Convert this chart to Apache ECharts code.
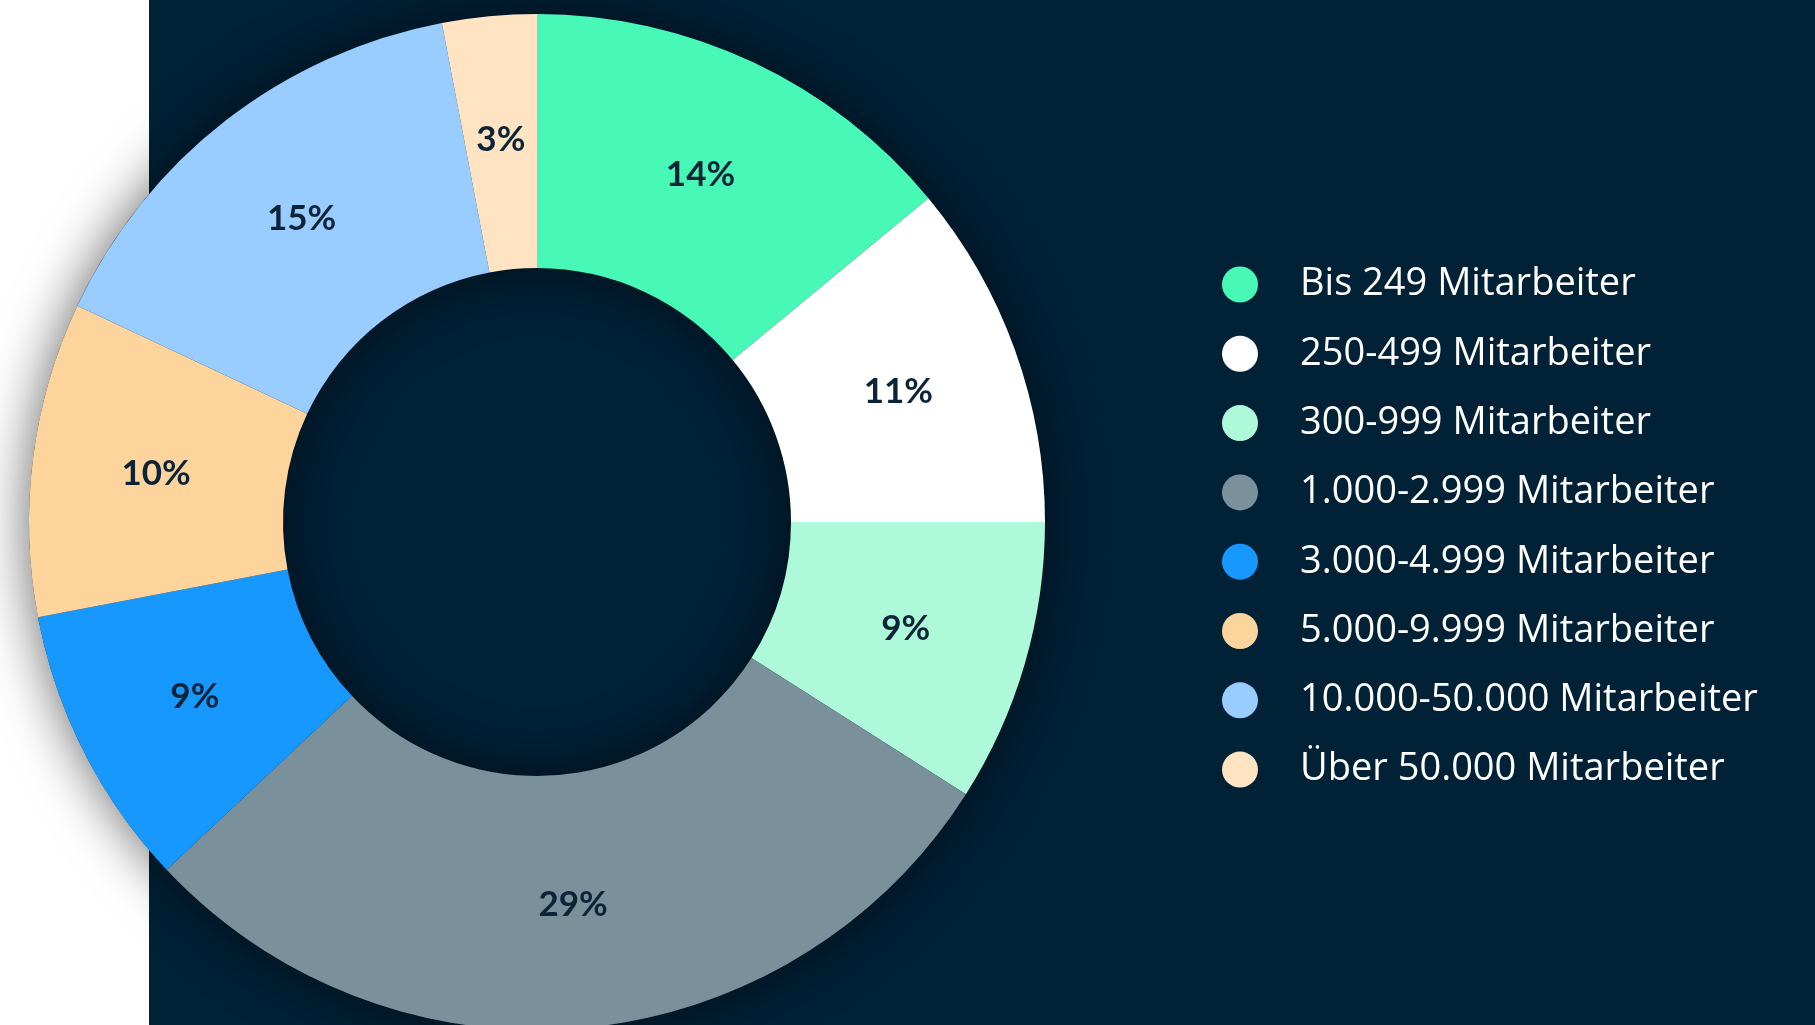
<!DOCTYPE html>
<html>
<head>
<meta charset="utf-8">
<script src="https://cdn.jsdelivr.net/npm/echarts@6/dist/echarts.min.js"></script>
<style>
  html, body { margin: 0; padding: 0; background: #ffffff; }
  #main { width: 1815px; height: 1025px; }
</style>
</head>
<body>
<div id="main"></div>
<script>
// Mitarbeiter-Verteilung (Anteile in %)
var categories = [
  'Bis 249 Mitarbeiter',
  '250-499 Mitarbeiter',
  '300-999 Mitarbeiter',
  '1.000-2.999 Mitarbeiter',
  '3.000-4.999 Mitarbeiter',
  '5.000-9.999 Mitarbeiter',
  '10.000-50.000 Mitarbeiter',
  'Über 50.000 Mitarbeiter'
];
var values = [14, 11, 9, 29, 9, 10, 15, 3];
var colors = ['#47f8b7', '#ffffff', '#adf9d9', '#7a909a', '#1698ff', '#fdd49c', '#99ccff', '#ffe4c3'];

var navy = '#012137';
var chart = echarts.init(document.getElementById('main'));

var pieData = [];
for (var i = 0; i < categories.length; i++) {
  pieData.push({
    name: categories[i],
    value: values[i],
    itemStyle: { color: colors[i] }
  });
}

chart.setOption({
  backgroundColor: '#ffffff',
  animation: false,
  color: colors,
  graphic: [{
    type: 'rect',
    z: -10,
    shape: { x: 149, y: 0, width: 1815 - 149, height: 1025 },
    style: { fill: navy }
  }],
  legend: {
    data: categories,
    orient: 'vertical',
    left: 1217,
    top: 260.5,
    icon: 'circle',
    itemWidth: 36,
    itemHeight: 36,
    itemGap: 31.3,
    selectedMode: false,
    textStyle: {
      color: '#ffffff',
      fontFamily: 'Open Sans',
      fontSize: 38,
      lineHeight: 36,
      padding: [0, 0, 0, 37]
    }
  },
  series: [{
    // schatten unter dem ring
    type: 'pie',
    z: 1,
    silent: true,
    center: [537, 522],
    radius: [254, 508],
    label: { show: false },
    labelLine: { show: false },
    itemStyle: {
      color: navy,
      shadowBlur: 55,
      shadowColor: 'rgba(0, 0, 0, 0.6)'
    },
    data: [{ name: '', value: 1 }]
  }, {
    type: 'pie',
    z: 3,
    center: [537, 522],
    radius: [254, 508],
    startAngle: 90,
    clockwise: true,
    avoidLabelOverlap: false,
    silent: true,
    label: {
      show: true,
      position: 'inside',
      formatter: '{c}%',
      color: '#0b2438',
      fontFamily: 'Lato',
      fontWeight: 'bold',
      fontSize: 35
    },
    labelLine: { show: false },
    itemStyle: { borderWidth: 0 },
    data: pieData
  }]
});
</script>
</body>
</html>
